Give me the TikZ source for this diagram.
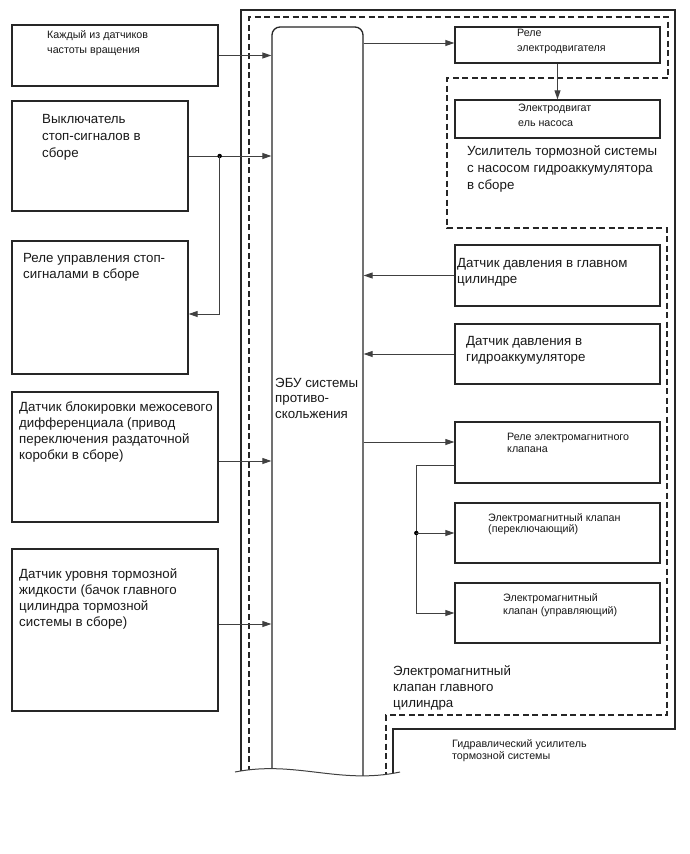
\documentclass[tikz,border=0pt]{standalone}
\usepackage{fontspec}
\setmainfont{Liberation Sans}
\usetikzlibrary{arrows.meta}
\begin{document}
\begin{tikzpicture}[x=1pt,y=-1pt,
  box/.style={draw=black!85, line width=1.3pt, rectangle, inner sep=0pt},
  conn/.style={draw=black!75, line width=1pt},
  arr/.style={conn, -{Triangle[length=9pt,width=6pt]}},
  big/.style={anchor=base west, inner sep=0pt, align=left, text=black!90, font=\fontsize{13.3}{16}\selectfont},
  small/.style={anchor=base west, inner sep=0pt, align=left, text=black!90, font=\fontsize{10.7}{15}\selectfont},
  jdot/.style={circle, fill=black, inner sep=0pt, minimum size=4.5pt},
  dashline/.style={draw=black!85, line width=1.3pt, dash pattern=on 6pt off 3.5pt},
  solidline/.style={draw=black!85, line width=1.3pt}
]
\useasboundingbox (0,0) rectangle (690,854);
\fill[white] (0,0) rectangle (690,854);

% left boxes
\node[box, minimum width=206pt, minimum height=61pt] (s1) at (115,55.5) {};
\node[box, minimum width=176pt, minimum height=110pt] (s2) at (100,156) {};
\node[box, minimum width=176pt, minimum height=133pt] (s3) at (100,307.5) {};
\node[box, minimum width=206pt, minimum height=130pt] (s4) at (115,457) {};
\node[box, minimum width=206pt, minimum height=162pt] (s5) at (115,630) {};

% right boxes
\node[box, minimum width=205pt, minimum height=36pt] (r1) at (557.5,45) {};
\node[box, minimum width=205pt, minimum height=38pt] (m1) at (557.5,119) {};
\node[box, minimum width=205pt, minimum height=61pt] (p1) at (557.5,275.5) {};
\node[box, minimum width=205pt, minimum height=60pt] (p2) at (557.5,354) {};
\node[box, minimum width=205pt, minimum height=61pt] (v1) at (557.5,452.5) {};
\node[box, minimum width=205pt, minimum height=60pt] (v2) at (557.5,533) {};
\node[box, minimum width=205pt, minimum height=60pt] (v3) at (557.5,613) {};

% clipped part: ECU and enclosures cut by the wave
\begin{scope}
\clip (0,0) -- (0,772) -- (235,772) .. controls (295,760) and (340,785) .. (400,772) -- (690,772) -- (690,0) -- cycle;
\node[draw=black!85, line width=1.3pt, rounded corners=8pt, minimum width=91pt, minimum height=773pt, inner sep=0pt] (ecu) at (317.5,413.5) {};
\draw[solidline] (241,800) -- (241,10) -- (675,10) -- (675,729) -- (393,729) -- (393,800);
\draw[dashline] (249,800) -- (249,17) -- (668,17) -- (668,78) -- (447,78) -- (447,228) -- (667,228) -- (667,715) -- (386,715) -- (386,800);
\end{scope}
\draw[draw=black!75, line width=1pt] (235,772) .. controls (295,760) and (340,785) .. (400,772);

% texts (anchor = baseline of last line)
\node[small, font=\fontsize{10.7}{15}\selectfont] (t1) at (47,53.2) {Каждый из датчиков\\частоты вращения};
\node[big, font=\fontsize{13.3}{17}\selectfont] (t2) at (42,157) {Выключатель\\стоп-сигналов в\\сборе};
\node[big] (t3) at (23,278) {Реле управления стоп-\\сигналами в сборе};
\node[big] (t4) at (19,459) {Датчик блокировки межосевого\\дифференциала (привод\\переключения раздаточной\\коробки в сборе)};
\node[big] (t5) at (19,626) {Датчик уровня тормозной\\жидкости (бачок главного\\цилиндра тормозной\\системы в сборе)};
\node[big, font=\fontsize{13.3}{15.5}\selectfont] (te) at (275,418) {ЭБУ системы\\противо-\\скольжения};

\node[small] (tr1) at (517,51.2) {Реле\\электродвигателя};
\node[small] (tm1) at (518,126.2) {Электродвигат\\ель насоса};
\node[big, font=\fontsize{13.3}{17}\selectfont] (tu) at (467,189.7) {Усилитель тормозной системы\\с насосом гидроаккумулятора\\в сборе};
\node[big] (tp1) at (457,283.3) {Датчик давления в главном\\цилиндре};
\node[big, font=\fontsize{13.3}{16.7}\selectfont] (tp2) at (466,361.7) {Датчик давления в\\гидроаккумуляторе};
\node[small, font=\fontsize{10.7}{12.6}\selectfont] (tv1) at (507,452.6) {Реле электромагнитного\\клапана};
\node[small, font=\fontsize{10.7}{11.7}\selectfont] (tv2) at (488,532.7) {Электромагнитный клапан\\(переключающий)};
\node[small, font=\fontsize{10.7}{13.3}\selectfont] (tv3) at (503,614.8) {Электромагнитный\\клапан (управляющий)};
\node[big] (tg) at (393,707.7) {Электромагнитный\\клапан главного\\цилиндра};
\node[small, font=\fontsize{10.7}{12.7}\selectfont] (th) at (452,759.9) {Гидравлический усилитель\\тормозной системы};

% connector end points
\coordinate (s3in) at ([yshift=-6.5pt]s3.east);
\coordinate (s4out) at ([yshift=-4pt]s4.east);
\coordinate (s5out) at ([yshift=6pt]s5.east);
\coordinate (r1in) at ([yshift=2pt]r1.west);
\coordinate (vin) at ([yshift=10.5pt]v1.west);
\coordinate (vout) at ([yshift=-12.5pt]v1.west);

% connectors left
\draw[arr] (s1.east) -- (ecu.west |- s1.east);
\draw[arr] (s2.east) -- (ecu.west |- s2.east);
\node[jdot] (j1) at ([xshift=31pt]s2.east) {};
\draw[arr] (j1.center) |- (s3in);
\draw[arr] (s4out) -- (ecu.west |- s4out);
\draw[arr] (s5out) -- (ecu.west |- s5out);

% connectors right
\draw[arr] (ecu.east |- r1in) -- (r1in);
\draw[arr] (r1.south) -- (m1.north);
\draw[arr] (p1.west) -- (ecu.east |- p1.west);
\draw[arr] (p2.west) -- (ecu.east |- p2.west);
\draw[arr] (ecu.east |- vin) -- (vin);
\draw[arr] (vout) -- ++(-38,0) |- (v3.west);
\node[jdot] (j2) at ([xshift=-38pt]v2.west) {};
\draw[arr] (j2.center) -- (v2.west);
\end{tikzpicture}
\end{document}
